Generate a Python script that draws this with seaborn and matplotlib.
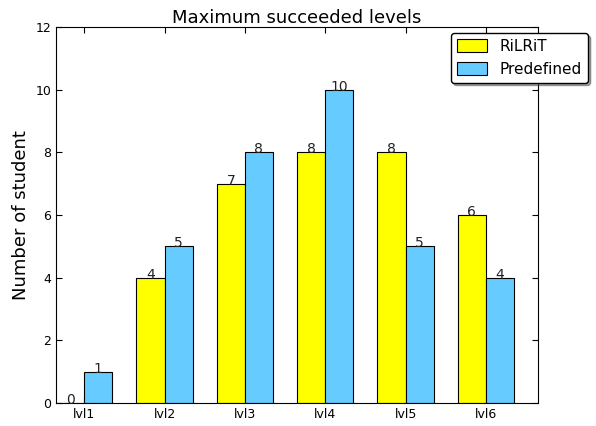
import matplotlib
matplotlib.use("Agg")
import matplotlib.pyplot as plt
import pandas as pd
import seaborn as sns

levels = ["lvl1", "lvl2", "lvl3", "lvl4", "lvl5", "lvl6"]
rilrit = [0, 4, 7, 8, 8, 6]
predefined = [1, 5, 8, 10, 5, 4]

df = pd.DataFrame({
    "level": levels * 2,
    "students": rilrit + predefined,
    "method": ["RiLRiT"] * len(levels) + ["Predefined"] * len(levels),
})

sns.set_style("ticks")
plt.rcParams["font.family"] = ["DejaVu Sans"]
plt.rcParams.update({"text.color": "black", "axes.labelcolor": "black",
                     "xtick.color": "black", "ytick.color": "black"})

fig = plt.figure(figsize=(5.96, 4.26), dpi=100)
ax = fig.add_axes([0.094, 0.054, 0.809, 0.883])

sns.barplot(data=df, x="level", y="students", hue="method",
            palette={"RiLRiT": "#ffff00", "Predefined": "#66ccff"},
            width=0.7, gap=0, edgecolor="black", linewidth=0.8,
            saturation=1, errorbar=None, ax=ax)

for c in ax.containers:
    ax.bar_label(c, fmt="%d", padding=-3, fontsize=10, color="#222222")

ax.set_xlim(-0.35, 5.65)
ax.set_ylim(0, 12)
ax.set_yticks(range(0, 13, 2))
ax.set_xlabel("")
ax.set_ylabel("Number of student", fontsize=13)
ax.set_title("Maximum succeeded levels", fontsize=13, pad=3)
ax.tick_params(direction="in", top=True, right=True, length=4, labelsize=9)
for s in ax.spines.values():
    s.set_visible(True)
    s.set_color("black")

leg = ax.legend(loc="upper right", bbox_to_anchor=(1.103, 0.984), borderaxespad=0,
                fontsize=11, shadow=True, fancybox=True, frameon=True,
                handlelength=2.0, handleheight=0.9)
leg.get_frame().set_edgecolor("black")

fig.savefig("out.png", dpi=100)
